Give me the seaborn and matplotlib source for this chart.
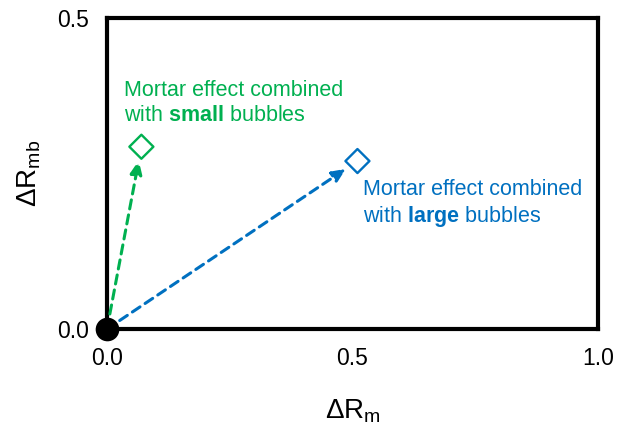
import matplotlib
matplotlib.use('Agg')
import matplotlib.pyplot as plt
import seaborn as sns
import pandas as pd

# data
labels = ['small', 'large']
dr_m = [0.07, 0.51]
dr_mb = [0.293, 0.27]
colors = ['#00B050', '#0070C0']
origin_x = [0.0]
origin_y = [0.0]

sns.set_style('white')
plt.rcParams['font.family'] = ['Liberation Sans', 'DejaVu Sans']
plt.rcParams['mathtext.fontset'] = 'custom'
plt.rcParams['mathtext.rm'] = 'Liberation Sans'
plt.rcParams['mathtext.it'] = 'Liberation Sans:italic'
plt.rcParams['mathtext.bf'] = 'Liberation Sans:bold'
plt.rcParams['text.color'] = 'black'
plt.rcParams['axes.labelcolor'] = 'black'
plt.rcParams['xtick.color'] = 'black'
plt.rcParams['ytick.color'] = 'black'

fig = plt.figure(figsize=(6.2, 4.29), dpi=100)
ax = fig.add_axes([0.1726, 0.2331, 0.792, 0.725])

df = pd.DataFrame({'x': dr_m, 'y': dr_mb, 'kind': labels})

# dashed arrows from origin
for x, y, c in zip(dr_m, dr_mb, colors):
    ax.annotate('', xy=(x, y), xytext=(0, 0),
                arrowprops=dict(arrowstyle='-|>,head_length=0.8,head_width=0.35',
                                linestyle=(0, (3, 2)), color=c, lw=2.2,
                                shrinkA=0, shrinkB=10))

sns.scatterplot(data=df, x='x', y='y', hue='kind', palette=colors, marker='D',
                s=150, linewidth=1.7, legend=False, ax=ax,
                clip_on=False, zorder=5)
for coll in ax.collections:
    coll.set_facecolor('white')
    coll.set_edgecolor(colors)

sns.scatterplot(x=origin_x, y=origin_y, color='black', s=290, linewidth=0,
                ax=ax, clip_on=False, zorder=6)

ax.text(0.035, 0.363, 'Mortar effect combined\nwith $\\mathbf{small}$ bubbles',
        color=colors[0], fontsize=15.5, ha='left', va='center', linespacing=1.25)
ax.text(0.522, 0.201, 'Mortar effect combined\nwith $\\mathbf{large}$ bubbles',
        color=colors[1], fontsize=15.5, ha='left', va='center', linespacing=1.25)

ax.set_xlim(0, 1.0)
ax.set_ylim(0, 0.5)
ax.set_xticks([0.0, 0.5, 1.0])
ax.set_yticks([0.0, 0.5])
ax.set_xticklabels(['0.0', '0.5', '1.0'])
ax.set_yticklabels(['0.0', '0.5'])
ax.tick_params(length=0, pad=13, labelsize=16.5, colors='black')

for s in ax.spines.values():
    s.set_visible(True)
    s.set_linewidth(3)
    s.set_color('black')

ax.set_xlabel('ΔR$_{\\mathrm{m}}$', fontsize=20, labelpad=20)
ax.set_ylabel('ΔR$_{\\mathrm{mb}}$', fontsize=20, labelpad=10)

fig.savefig('out.png', dpi=100)
